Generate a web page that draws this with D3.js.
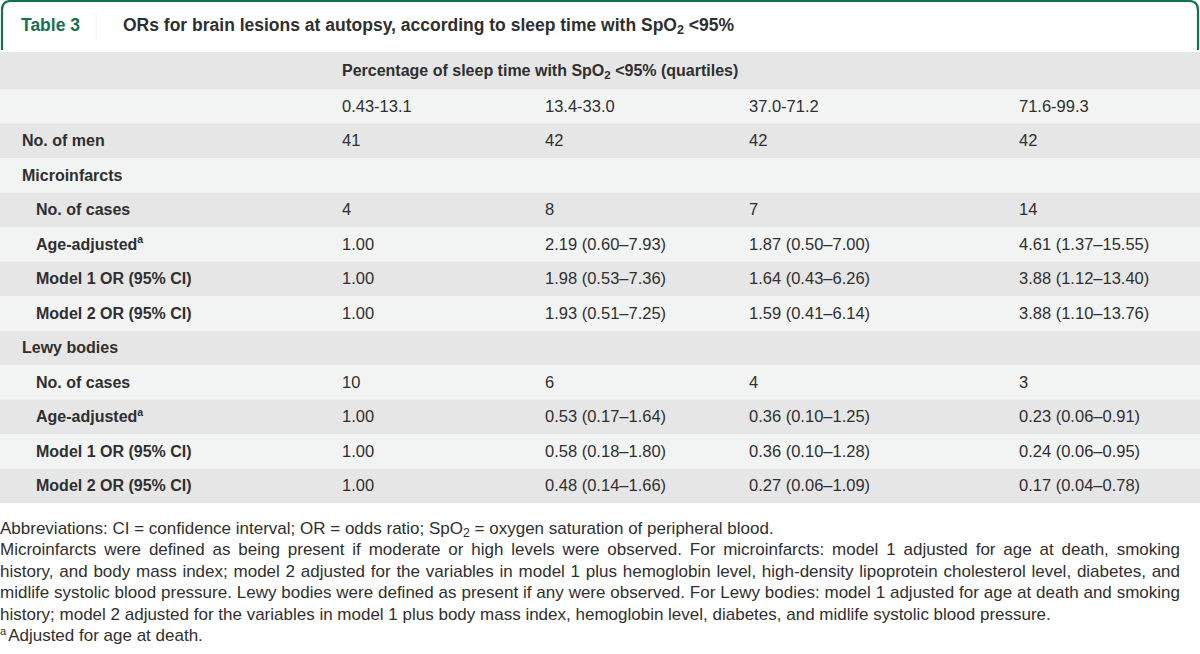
<!DOCTYPE html>
<html><head><meta charset="utf-8">
<script src="https://cdn.jsdelivr.net/npm/d3@7"></script>
<style>
html,body{margin:0;padding:0;background:#fff;}
svg{display:block;}
</style></head>
<body>
<svg id="chart" width="1200" height="654"></svg>
<script>
// ---------- data ----------
const tableNumber = "Table 3";
const titleParts = ["ORs for brain lesions at autopsy, according to sleep time with SpO", "2", " <95%"];
const spanHeaderParts = ["Percentage of sleep time with SpO", "2", " <95% (quartiles)"];
const quartiles = ["0.43-13.1", "13.4-33.0", "37.0-71.2", "71.6-99.3"];
const rowLabels = ["No. of men", "Microinfarcts", "No. of cases", "Age-adjusted", "Model 1 OR (95% CI)", "Model 2 OR (95% CI)",
                   "Lewy bodies", "No. of cases", "Age-adjusted", "Model 1 OR (95% CI)", "Model 2 OR (95% CI)"];
const rowIndented = [false, false, true, true, true, true, false, true, true, true, true];
const rowSuperscript = ["", "", "", "a", "", "", "", "", "a", "", ""];
const menCounts = ["41", "42", "42", "42"];
const microCases = ["4", "8", "7", "14"];
const microAgeAdj = ["1.00", "2.19 (0.60–7.93)", "1.87 (0.50–7.00)", "4.61 (1.37–15.55)"];
const microModel1 = ["1.00", "1.98 (0.53–7.36)", "1.64 (0.43–6.26)", "3.88 (1.12–13.40)"];
const microModel2 = ["1.00", "1.93 (0.51–7.25)", "1.59 (0.41–6.14)", "3.88 (1.10–13.76)"];
const lewyCases = ["10", "6", "4", "3"];
const lewyAgeAdj = ["1.00", "0.53 (0.17–1.64)", "0.36 (0.10–1.25)", "0.23 (0.06–0.91)"];
const lewyModel1 = ["1.00", "0.58 (0.18–1.80)", "0.36 (0.10–1.28)", "0.24 (0.06–0.95)"];
const lewyModel2 = ["1.00", "0.48 (0.14–1.66)", "0.27 (0.06–1.09)", "0.17 (0.04–0.78)"];
const footnoteLines = [
  ["Abbreviations: CI = confidence interval; OR = odds ratio; SpO", "2", " = oxygen saturation of peripheral blood."],
  ["Microinfarcts were defined as being present if moderate or high levels were observed. For microinfarcts: model 1 adjusted for age at death, smoking"],
  ["history, and body mass index; model 2 adjusted for the variables in model 1 plus hemoglobin level, high-density lipoprotein cholesterol level, diabetes, and"],
  ["midlife systolic blood pressure. Lewy bodies were defined as present if any were observed. For Lewy bodies: model 1 adjusted for age at death and smoking"],
  ["history; model 2 adjusted for the variables in model 1 plus body mass index, hemoglobin level, diabetes, and midlife systolic blood pressure."],
  ["a", "Adjusted for age at death."]
];
const footnoteJustified = [false, true, true, true, false, false];

// ---------- layout ----------
const W = 1200;
const FONT = "'Liberation Sans', Arial, sans-serif";
const GREEN = "#16704c";
const TEXT = "#2f2f2f";
const DARK = "#e6e6e6", LIGHT = "#f2f3f3";
const svg = d3.select("#chart").style("font-family", FONT);

const rowValues = [menCounts, null, microCases, microAgeAdj, microModel1, microModel2, null, lewyCases, lewyAgeAdj, lewyModel1, lewyModel2];
const yRow = d3.scaleLinear().domain([1, 13]).range([89, 503]);
const rowTop = i => i === 0 ? 52 : yRow(i);
const rowBot = i => yRow(i + 1);
const colX = d3.scaleOrdinal().domain(d3.range(4)).range([342, 545, 749, 1019]);
const labelX = d3.scaleOrdinal().domain([false, true]).range([22, 36]);

// header frame
const r = 9;
svg.append("path")
  .attr("d", `M2,50 L2,${1 + r} Q2,1 ${2 + r},1 L${W - 2 - r},1 Q${W - 2},1 ${W - 2},${1 + r} L${W - 2},50`)
  .attr("fill", "none").attr("stroke", GREEN).attr("stroke-width", 2.2);
svg.append("line").attr("x1", 96).attr("x2", 96).attr("y1", 12).attr("y2", 40)
  .attr("stroke", "#f4f4f4").attr("stroke-width", 1);

const TFS = 17.5;
svg.append("text").attr("x", 21).attr("y", 31).attr("font-size", TFS).attr("font-weight", "bold")
  .attr("fill", GREEN).text(tableNumber);

function partsText(sel, parts, size) {
  parts.forEach((p, i) => {
    if (i === 1) {
      sel.append("tspan").attr("font-size", size * 0.72).attr("dy", 3).text(p);
    } else if (i === 2) {
      sel.append("tspan").attr("dy", -3).text(p);
    } else sel.append("tspan").text(p);
  });
}
partsText(svg.append("text").attr("x", 123).attr("y", 31).attr("font-size", TFS)
  .attr("font-weight", "bold").attr("fill", TEXT), titleParts, TFS);

// row backgrounds
const allRows = d3.range(13);
svg.append("g").selectAll("rect").data(allRows).join("rect")
  .attr("x", 0).attr("width", W)
  .attr("y", d => rowTop(d)).attr("height", d => rowBot(d) - rowTop(d))
  .attr("fill", d => d % 2 === 0 ? DARK : LIGHT);

const BFS = 16;   // bold labels
const NFS = 16.5; // regular values
const base = i => (rowTop(i) + rowBot(i)) / 2 + 5.6;

// header rows
partsText(svg.append("text").attr("x", colX(0)).attr("y", base(0)).attr("font-size", BFS)
  .attr("font-weight", "bold").attr("fill", TEXT), spanHeaderParts, BFS);
svg.append("g").selectAll("text").data(quartiles).join("text")
  .attr("x", (d, i) => colX(i)).attr("y", base(1)).attr("font-size", NFS).attr("fill", TEXT).text(d => d);

// body rows
const body = svg.append("g");
rowLabels.forEach((lab, k) => {
  const ri = k + 2;
  const t = body.append("text").attr("x", labelX(rowIndented[k])).attr("y", base(ri))
    .attr("font-size", BFS).attr("font-weight", "bold").attr("fill", TEXT);
  t.append("tspan").text(lab);
  if (rowSuperscript[k]) t.append("tspan").attr("font-size", 10.5).attr("dy", -6.5).text(rowSuperscript[k]);
  if (rowValues[k]) {
    body.append("g").selectAll("text").data(rowValues[k]).join("text")
      .attr("x", (d, i) => colX(i)).attr("y", base(ri)).attr("font-size", NFS).attr("fill", TEXT).text(d => d);
  }
});

// footnotes
const footY = d3.scaleLinear().domain([0, 1]).range([534, 555.4]);
const FFS = 17;
footnoteLines.forEach((parts, i) => {
  const t = svg.append("text").attr("x", 0).attr("y", footY(i)).attr("font-size", FFS).attr("fill", TEXT);
  if (i === 0) partsText(t, parts, FFS);
  else if (i === 5) {
    t.append("tspan").attr("font-size", 11).attr("dy", -6).text(parts[0]);
    t.append("tspan").attr("dy", 6).attr("dx", 2).text(parts[1]);
  } else t.text(parts[0]);
  if (footnoteJustified[i]) {
    const w = t.node().getComputedTextLength();
    const spaces = (parts[0].match(/ /g) || []).length;
    const target = 1180;
    if (spaces > 0) t.attr("word-spacing", (target - w) / spaces);
  }
});
</script>
</body></html>
